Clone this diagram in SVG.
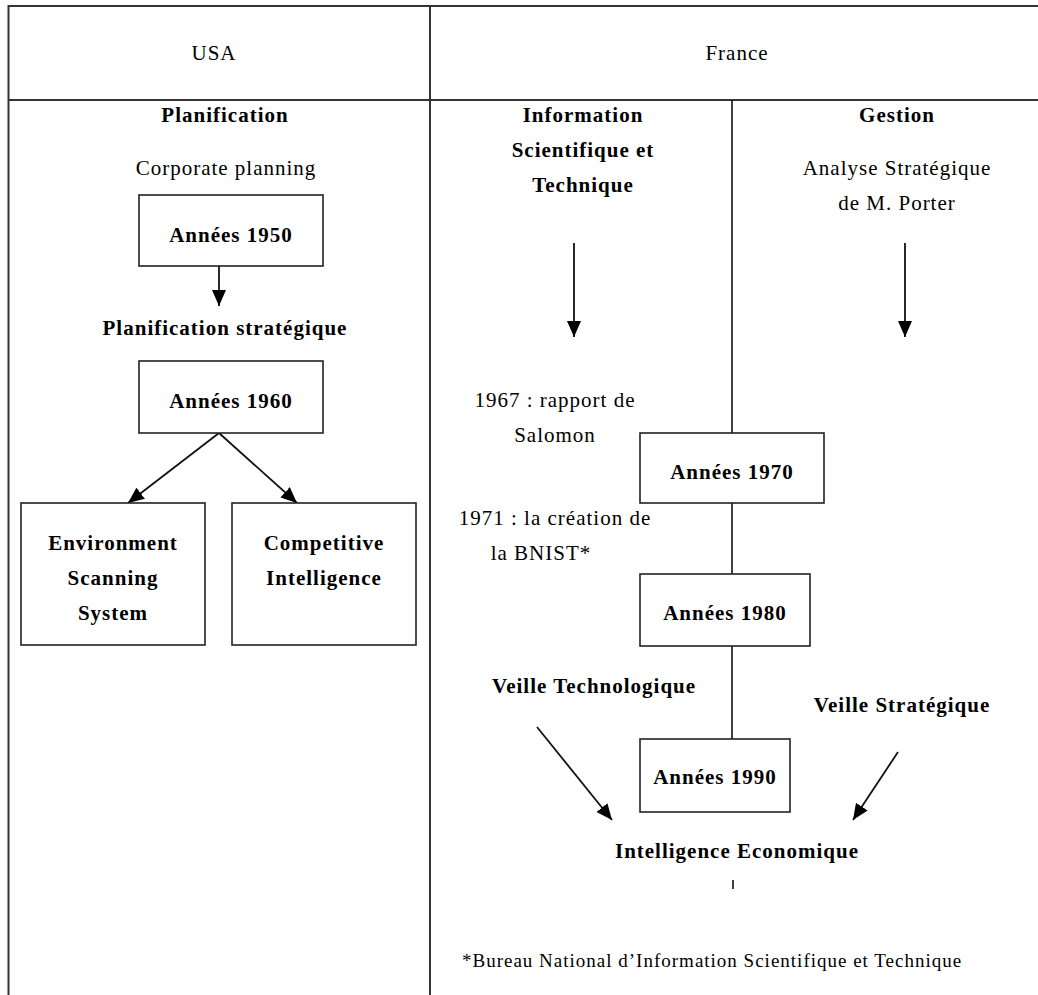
<svg xmlns="http://www.w3.org/2000/svg" width="1038" height="995" viewBox="0 0 1038 995">
<defs>
<style>
text{font-family:"Liberation Serif","Times New Roman",serif;font-size:21px;letter-spacing:1px;fill:#000;text-anchor:middle}
.b{font-weight:bold}
.fn{font-size:19px;text-anchor:start}
.frame{stroke:#333;stroke-width:2;fill:none}
.box{stroke:#222;stroke-width:1.6;fill:#fff}
.ln{stroke:#111;stroke-width:1.6;fill:none}
.ar{stroke:#111;stroke-width:1.8;fill:none;marker-end:url(#ahb)}
</style>
<marker id="ahb" viewBox="0 0 16 14" refX="16" refY="7" markerWidth="16" markerHeight="14" orient="auto" markerUnits="userSpaceOnUse">
<path d="M0,0 L16,7 L0,14 Z" fill="#000"/>
</marker>
</defs>
<rect width="1038" height="995" fill="#fff"/>
<g id="frame">
<line class="frame" x1="8" y1="6" x2="1038" y2="6"/>
<line class="frame" x1="8.5" y1="5" x2="8.5" y2="995"/>
<line class="frame" x1="8" y1="100" x2="1038" y2="100"/>
<line class="frame" x1="430" y1="5" x2="430" y2="995"/>
</g>
<g id="headers">
<text x="214" y="60">USA</text>
<text x="737" y="60">France</text>
</g>
<g id="connectors">
<line class="ln" x1="732" y1="100" x2="732" y2="433"/>
<line class="ln" x1="732" y1="503" x2="732" y2="574"/>
<line class="ln" x1="732" y1="646" x2="732" y2="739"/>
<line class="ln" x1="733" y1="880" x2="733" y2="889"/>
<line class="ar" x1="219" y1="266" x2="219" y2="306"/>
<line class="ar" x1="219" y1="433" x2="128" y2="503"/>
<line class="ar" x1="219" y1="433" x2="297" y2="503"/>
<line class="ar" x1="574" y1="243" x2="574" y2="337"/>
<line class="ar" x1="905" y1="243" x2="905" y2="337"/>
<line class="ar" x1="537" y1="727" x2="612" y2="820"/>
<line class="ar" x1="898" y1="752" x2="853" y2="820"/>
</g>
<g id="usa-labels">
<text class="b" x="225" y="122">Planification</text>
<text x="226" y="175">Corporate planning</text>
<text class="b" x="225" y="335">Planification stratégique</text>
</g>
<g id="n1950">
<rect class="box" x="139" y="195" width="184" height="71"/>
<text class="b" x="231" y="242">Années 1950</text>
</g>
<g id="n1960">
<rect class="box" x="139" y="361" width="184" height="72"/>
<text class="b" x="231" y="408">Années 1960</text>
</g>
<g id="ness">
<rect class="box" x="21" y="503" width="184" height="142"/>
<text class="b" x="113" y="550">Environment</text>
<text class="b" x="113" y="585">Scanning</text>
<text class="b" x="113" y="620">System</text>
</g>
<g id="nci">
<rect class="box" x="232" y="503" width="184" height="142"/>
<text class="b" x="324" y="550">Competitive</text>
<text class="b" x="324" y="585">Intelligence</text>
</g>
<g id="france-labels">
<text class="b" x="583" y="122">Information</text>
<text class="b" x="583" y="157">Scientifique et</text>
<text class="b" x="583" y="192">Technique</text>
<text class="b" x="897" y="122">Gestion</text>
<text x="897" y="175">Analyse Stratégique</text>
<text x="897" y="210">de M. Porter</text>
<text x="555" y="407">1967 : rapport de</text>
<text x="555" y="442">Salomon</text>
<text x="555" y="525">1971 : la création de</text>
<text x="541" y="560">la BNIST*</text>
<text class="b" x="594" y="693">Veille Technologique</text>
<text class="b" x="902" y="712">Veille Stratégique</text>
<text class="b" x="737" y="858">Intelligence Economique</text>
<text class="fn" x="462" y="967">*Bureau National d’Information Scientifique et Technique</text>
</g>
<g id="n1970">
<rect class="box" x="640" y="433" width="184" height="70"/>
<text class="b" x="732" y="479">Années 1970</text>
</g>
<g id="n1980">
<rect class="box" x="640" y="574" width="170" height="72"/>
<text class="b" x="725" y="620">Années 1980</text>
</g>
<g id="n1990">
<rect class="box" x="640" y="739" width="150" height="73"/>
<text class="b" x="715" y="784">Années 1990</text>
</g>
</svg>
